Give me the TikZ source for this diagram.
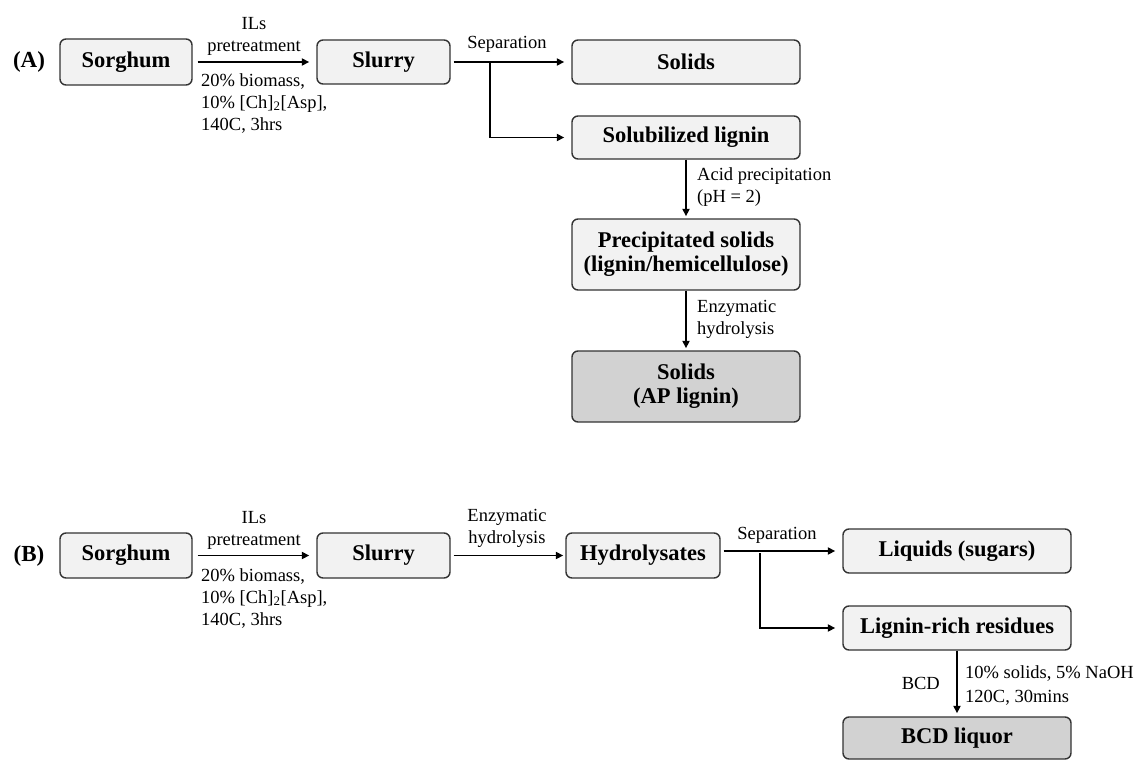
\documentclass[tikz,border=0pt]{standalone}
\usepackage{fontspec}
\setmainfont{Liberation Serif}
\usetikzlibrary{arrows.meta}
\definecolor{boxlight}{HTML}{F2F2F2}
\definecolor{boxdark}{HTML}{D2D2D2}
\definecolor{edge}{HTML}{333333}
\begin{document}
\begin{tikzpicture}[x=1pt,y=-1pt,
  box/.style={draw=edge, line width=1.4pt, rounded corners=6pt, fill=boxlight,
    font=\bfseries\fontsize{22.5}{24}\selectfont, align=center, inner sep=0pt},
  darkbox/.style={box, fill=boxdark},
  lbl/.style={font=\fontsize{18.5}{22}\selectfont, inner sep=0pt},
  tag/.style={font=\bfseries\fontsize{23}{26}\selectfont, inner sep=0pt},
  arr/.style={-{Triangle[length=7.5pt,width=7pt]}, line width=1.8pt, draw=black},
  ln/.style={line width=1.8pt, draw=black}]
\useasboundingbox (0,0) rectangle (1144,760);
\fill[white] (0,0) rectangle (1144,760);

% ---------- Panel A ----------
\node[tag] (tA) at (29,62) {(A)};
\node[box, minimum width=132pt, minimum height=46pt] (sorA) at (126,62) {Sorghum};
\node[box, minimum width=133pt, minimum height=44pt] (slurA) at (383.5,62) {Slurry};
\node[box, minimum width=228pt, minimum height=44pt] (solA) at (686,62) {Solids};
\node[box, minimum width=228pt, minimum height=43pt] (solubA) at (686,137.5) {Solubilized lignin};
\node[box, minimum width=228pt, minimum height=71pt] (precA) at (686,254.5) {Precipitated solids\\(lignin/hemicellulose)};
\node[darkbox, minimum width=228pt, minimum height=71pt] (apA) at (686,386.5) {Solids\\(AP lignin)};

\draw[arr, shorten <=5pt, shorten >=7pt] (sorA.east) -- (slurA.west);
\node[lbl, align=center, anchor=south] (ilsA) at (254,56) {ILs\\pretreatment};
\node[lbl, align=left, anchor=north west] (condA) at (201,73) {20\% biomass,\\10\% [Ch]\textsubscript{2}[Asp],\\140C, 3hrs};

\coordinate (brA) at (490,62);
\draw[arr, shorten <=3pt, shorten >=7pt] (slurA.east) -- (solA.west);
\draw[arr, shorten >=7pt] (brA) |- (solubA.west);
\node[lbl, anchor=base] (sepA) at (507,49) {Separation};

\draw[arr, shorten >=2pt] (solubA.south) -- (precA.north);
\node[lbl, align=left, anchor=north west] (acidA) at (697,167) {Acid precipitation\\(pH = 2)};
\draw[arr, shorten >=2pt] (precA.south) -- (apA.north);
\node[lbl, align=left, anchor=north west] (enzA) at (697,300) {Enzymatic\\hydrolysis};

% ---------- Panel B ----------
\node[tag] (tB) at (29,556) {(B)};
\node[box, minimum width=132pt, minimum height=45pt] (sorB) at (126,555.5) {Sorghum};
\node[box, minimum width=133pt, minimum height=45pt] (slurB) at (383.5,555.5) {Slurry};
\node[box, minimum width=154pt, minimum height=45pt] (hydB) at (643,555.5) {Hydrolysates};
\node[box, minimum width=228pt, minimum height=44pt] (liqB) at (957,551) {Liquids (sugars)};
\node[box, minimum width=228pt, minimum height=44pt] (ligB) at (957,628) {Lignin-rich residues};
\node[darkbox, minimum width=228pt, minimum height=42pt] (bcdB) at (957,738) {BCD liquor};

\draw[arr, shorten <=5pt, shorten >=7pt] (sorB.east) -- (slurB.west);
\node[lbl, align=center, anchor=south] (ilsB) at (254,550) {ILs\\pretreatment};
\node[lbl, align=left, anchor=north west] (condB) at (201,568) {20\% biomass,\\10\% [Ch]\textsubscript{2}[Asp],\\140C, 3hrs};

\draw[arr, shorten <=3pt, shorten >=2pt] (slurB.east) -- (hydB.west);
\node[lbl, align=center, anchor=south] (enzB) at (507,548) {Enzymatic\\hydrolysis};

\coordinate (brB) at (760,553);
\draw[arr, shorten <=3pt, shorten >=7pt] (hydB.east |- liqB.west) -- (liqB.west);
\draw[arr, shorten >=7pt] (brB) |- (ligB.west);
\node[lbl, anchor=base] (sepB) at (777,539) {Separation};

\draw[arr, shorten >=3pt] (ligB.south) -- (bcdB.north);
\node[lbl, anchor=east] (bcdL) at (940,683) {BCD};
\node[lbl, align=left, anchor=north west, font=\fontsize{18.5}{24}\selectfont] (bcdC) at (965,665) {10\% solids, 5\% NaOH\\120C, 30mins};
\end{tikzpicture}
\end{document}
